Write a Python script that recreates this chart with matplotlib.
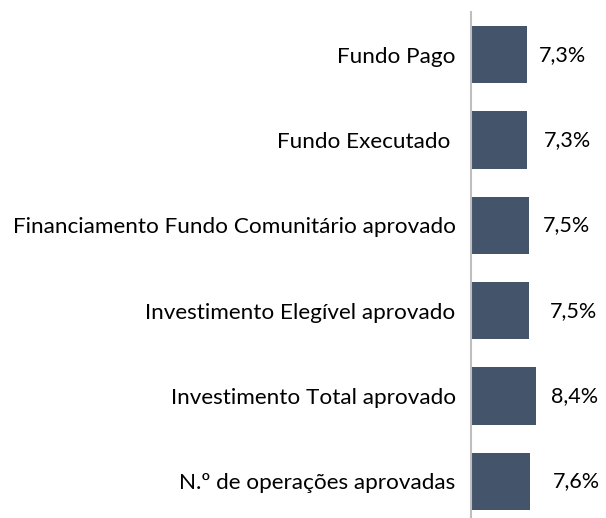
import matplotlib.pyplot as plt

# dados
categorias = ['Fundo Pago', 'Fundo Executado ', 'Financiamento Fundo Comunitário aprovado',
              'Investimento Elegível aprovado', 'Investimento Total aprovado',
              'N.º de operações aprovadas']
valores = [7.3, 7.3, 7.5, 7.5, 8.4, 7.6]
rotulos = ['7,3%', '7,3%', '7,5%', '7,5%', '8,4%', '7,6%']

# deslocamento dos rotulos (pontos)
desloc = [8, 12, 10, 15, 11, 17]

plt.rcParams['font.family'] = ['Lato', 'DejaVu Sans']
fig = plt.figure(figsize=(6.06, 5.18), dpi=100)
ax = fig.add_axes([471 / 606, -6 / 518, 1 - 471 / 606, 512 / 518])

y = list(range(len(categorias)))
ax.barh(y, valores, height=0.67, color='#44546A')
ax.set_ylim(len(categorias) - 0.5, -0.5)
ax.set_xlim(0, 17.5)

for i, (v, r) in enumerate(zip(valores, rotulos)):
    ax.annotate(r, (v, i), xytext=(desloc[i], 0), textcoords='offset points',
                ha='left', va='center', fontsize=15.5, color='#000000')

ax.set_yticks(y)
ax.set_yticklabels(categorias, fontsize=16.2)
ax.tick_params(axis='y', length=0, pad=11)
ax.set_xticks([])
for s in ['top', 'right', 'bottom']:
    ax.spines[s].set_visible(False)
ax.spines['left'].set_color('#BFBFBF')
ax.spines['left'].set_linewidth(1.5)

fig.savefig('out.png', dpi=100)
